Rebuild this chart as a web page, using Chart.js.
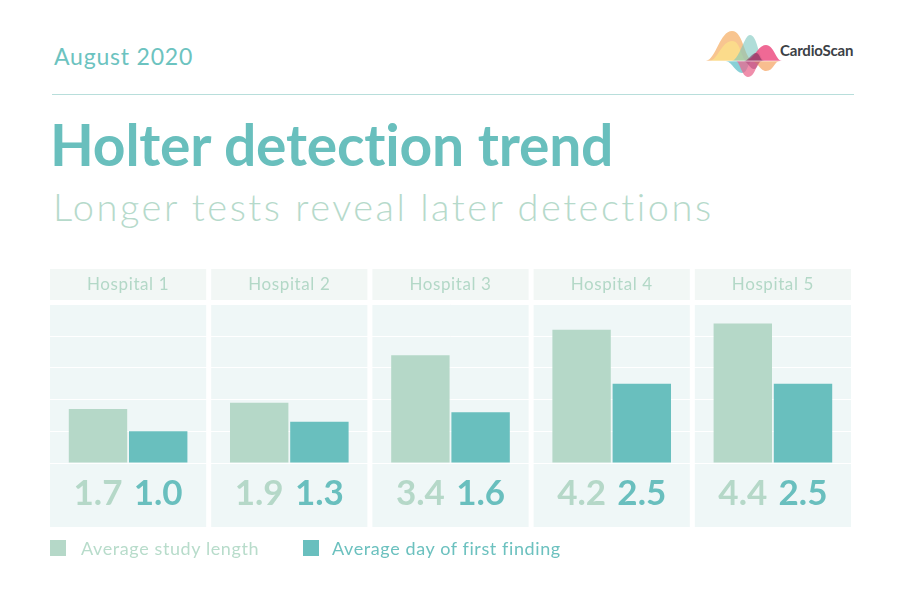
<!DOCTYPE html>
<html>
<head>
<meta charset="utf-8">
<script src="https://cdn.jsdelivr.net/npm/chart.js@4/dist/chart.umd.min.js"></script>
<style>
  html, body { margin:0; padding:0; background:#fff; }
  body { width:901px; height:612px; position:relative; overflow:hidden; font-family: Lato, "Noto Sans", sans-serif; }
  #c { position:absolute; left:0; top:0; }
  .t { position:absolute; white-space:nowrap; }
  #date { left:54px; top:42px; font-size:23px; color:#6cc3c0; font-weight:400; letter-spacing:0.8px; }
  #rule { position:absolute; left:52px; top:94px; width:802px; height:0; border-top:1.5px solid #b8dedb; }
  #title { left:50px; top:110px; font-size:57px; font-weight:700; color:#69bfbd; letter-spacing:-0.2px; }
  #sub { left:53px; top:183px; font-size:38px; font-weight:300; color:#b6dacb; letter-spacing:2.5px; }
  #legend { position:absolute; left:50px; top:537px; font-size:18px; letter-spacing:0.6px; }
  .li { position:absolute; top:0; white-space:nowrap; }
  .sw { position:absolute; top:3px; width:16px; height:16px; }
  .lt { position:absolute; top:0; }
  #logo { position:absolute; left:704px; top:25px; }
  #brand { left:780px; top:41px; font-size:15px; font-weight:700; color:#3c4146; letter-spacing:-0.2px; }
</style>
</head>
<body>
<div class="t" id="date">August 2020</div>
<div id="rule"></div>
<div class="t" id="title">Holter detection trend</div>
<div class="t" id="sub">Longer tests reveal later detections</div>
<svg id="logo" width="80" height="60" viewBox="0 0 80 60">
  <path d="M2 36 C12 34 16 6 28 6 C40 6 40 36 50 36 Z" fill="#f6b26b" opacity="0.75"/>
  <path d="M6 36 C14 34 18 16 28 16 C38 16 36 36 44 36 Z" fill="#fbe08a" opacity="0.8"/>
  <path d="M28 36 C36 34 40 10 46 10 C54 10 54 36 62 36 Z" fill="#7cc7be" opacity="0.6"/>
  <path d="M42 36 C50 34 54 20 62 20 C70 20 72 36 78 36 Z" fill="#ec4f83" opacity="0.85"/>
  <path d="M40 36 C44 36 48 28 52 28 C56 28 56 36 60 36 Z" fill="#7a2f5a" opacity="0.6"/>
  <path d="M22 36 C28 37 32 48 38 48 C44 48 44 36 48 36 Z" fill="#56bcc6" opacity="0.7"/>
  <path d="M32 36 C36 37 38 52 44 52 C52 52 52 36 58 36 Z" fill="#e9688f" opacity="0.75"/>
  <path d="M48 36 C54 37 56 46 62 46 C70 46 70 36 76 36 Z" fill="#f5a86a" opacity="0.75"/>
  <path d="M40 36 C44 37 46 44 50 44 C54 44 54 36 58 36 Z" fill="#b3467a" opacity="0.55"/>
  <line x1="0" y1="36" x2="80" y2="36" stroke="#fff" stroke-width="0.6"/>
</svg>
<div class="t" id="brand">CardioScan</div>
<canvas id="c" width="901" height="612"></canvas>
<div id="legend"></div>

<script>
// ---- data ----
const categories = ['Hospital 1', 'Hospital 2', 'Hospital 3', 'Hospital 4', 'Hospital 5'];
const seriesNames = ['Average study length', 'Average day of first finding'];
const studyLength = [1.7, 1.9, 3.4, 4.2, 4.4];
const firstFinding = [1.0, 1.3, 1.6, 2.5, 2.5];
const yTicks = [0, 1, 2, 3, 4, 5];

// ---- styles ----
const colLight = '#b5d8c8';
const colDark = '#69bfbe';
const headerBg = '#f2f7f5';
const bodyBg = '#eff7f7';

const panelPlugin = {
  id: 'panels',
  beforeDraw(chart) {
    const ctx = chart.ctx;
    const xs = chart.scales.x;
    const ca = chart.chartArea;
    const pitch = (ca.right - ca.left) / categories.length;
    const half = (pitch - 5) / 2;
    ctx.save();
    categories.forEach((cat, i) => {
      const cx = xs.getPixelForValue(i);
      ctx.fillStyle = headerBg;
      ctx.fillRect(cx - half, ca.top - 35.5, half * 2, 31);
      ctx.fillStyle = bodyBg;
      ctx.fillRect(cx - half, ca.top - 0.5, half * 2, 223);
      ctx.fillStyle = '#b3d8c7';
      ctx.font = '400 17px Lato, "Noto Sans", sans-serif';
      ctx.letterSpacing = '0.6px';
      ctx.textAlign = 'center';
      ctx.textBaseline = 'middle';
      ctx.fillText(cat, cx, ca.top - 20);
    });
    ctx.restore();
  },
  afterDatasetsDraw(chart) {
    const ctx = chart.ctx;
    ctx.save();
    ctx.font = '700 35px Lato, "Noto Sans", sans-serif';
    ctx.textAlign = 'center';
    ctx.textBaseline = 'middle';
    chart.data.datasets.forEach((ds, di) => {
      const meta = chart.getDatasetMeta(di);
      meta.data.forEach((bar, i) => {
        ctx.fillStyle = ds.backgroundColor;
        ctx.fillText(ds.data[i].toFixed(1), bar.x, chart.chartArea.bottom + 31);
      });
    });
    ctx.restore();
  }
};

const chart = new Chart(document.getElementById('c'), {
  type: 'bar',
  data: {
    labels: categories,
    datasets: [
      { label: seriesNames[0], data: studyLength, backgroundColor: colLight },
      { label: seriesNames[1], data: firstFinding, backgroundColor: colDark }
    ]
  },
  options: {
    responsive: false,
    animation: false,
    devicePixelRatio: 1,
    layout: { padding: { top: 304.5, bottom: 149, left: 47.5, right: 47.5 } },
    plugins: { legend: { display: false }, tooltip: { enabled: false } },
    datasets: { bar: { categoryPercentage: 0.747, barPercentage: 0.97 } },
    scales: {
      x: { display: false },
      y: {
        min: yTicks[0], max: yTicks[yTicks.length - 1],
        afterBuildTicks: (s) => { s.ticks = yTicks.map(v => ({ value: v })); },
        ticks: { display: false },
        border: { display: false },
        grid: { color: '#ffffff', lineWidth: 1, drawTicks: false }
      }
    }
  },
  plugins: [panelPlugin]
});

// legend from dataset names/colours
const lg = document.getElementById('legend');
const offs = [0, 253];
chart.data.datasets.forEach((ds, i) => {
  const li = document.createElement('div');
  li.className = 'li';
  li.style.left = offs[i] + 'px';
  li.innerHTML = '<div class="sw" style="left:0;background:' + ds.backgroundColor + '"></div>' +
    '<div class="lt" style="left:' + (i === 0 ? 31 : 29) + 'px;color:' + (i === 0 ? '#b8dccb' : '#6cc1bf') + '">' + ds.label + '</div>';
  lg.appendChild(li);
});
</script>
</body>
</html>
